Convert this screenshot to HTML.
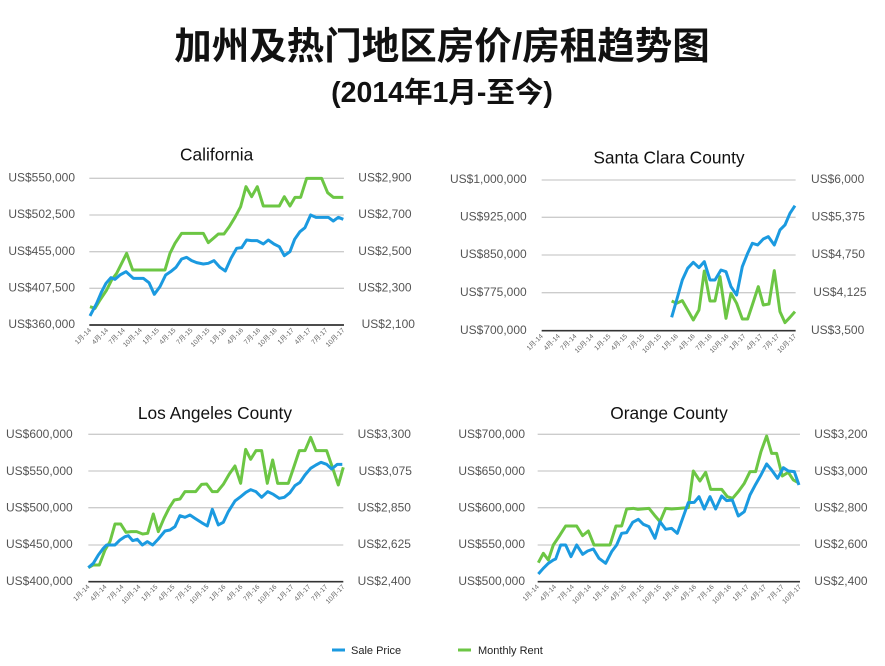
<!DOCTYPE html>
<html><head><meta charset="utf-8"><style>
html,body{margin:0;padding:0;background:#fff;}
svg{display:block;}
.t{font-family:"Liberation Sans","Noto Sans CJK SC",sans-serif;}
.ax{font-family:"Liberation Sans",sans-serif;font-size:36px;fill:#555;dominant-baseline:middle;}
.tk{font-family:"Liberation Sans","Noto Sans CJK SC",sans-serif;font-size:20px;fill:#666;text-anchor:end;}
.ttl{font-family:"Liberation Sans",sans-serif;font-size:52px;fill:#111;text-anchor:middle;}
.g{stroke:#ccc;stroke-width:4;}
.b{stroke:#333;stroke-width:5;}
.sb{fill:none;stroke:#1b9ae0;stroke-width:9;stroke-linejoin:round;}
.sg{fill:none;stroke:#6cc644;stroke-width:9;stroke-linejoin:round;}
</style></head><body>
<svg width="885" height="666" viewBox="0 0 885 666" xmlns="http://www.w3.org/2000/svg">
<text class="t" x="442" y="59" text-anchor="middle" font-size="37.5" font-weight="bold" fill="#111">加州及热门地区房价/房租趋势图</text>
<text class="t" x="442" y="102" text-anchor="middle" font-size="28.5" font-weight="bold" fill="#111">(2014年1月-至今)</text>

<!-- California -->
<g transform="translate(0,140) scale(0.3333)">
<text class="ttl" x="650" y="62">California</text>
<line class="g" x1="268" y1="115" x2="1032" y2="115"/><line class="g" x1="268" y1="225" x2="1032" y2="225"/><line class="g" x1="268" y1="335" x2="1032" y2="335"/><line class="g" x1="268" y1="445" x2="1032" y2="445"/><line class="b" x1="268" y1="555" x2="1032" y2="555"/>
<text class="ax" x="225" y="115" text-anchor="end">US$550,000</text><text class="ax" x="225" y="225" text-anchor="end">US$502,500</text><text class="ax" x="225" y="335" text-anchor="end">US$455,000</text><text class="ax" x="225" y="445" text-anchor="end">US$407,500</text><text class="ax" x="225" y="555" text-anchor="end">US$360,000</text>
<text class="ax" x="1075" y="115">US$2,900</text><text class="ax" x="1075" y="225">US$2,700</text><text class="ax" x="1075" y="335">US$2,500</text><text class="ax" x="1075" y="445">US$2,300</text><text class="ax" x="1085" y="555">US$2,100</text>
<g class="tk">
<text transform="translate(275,572) rotate(-45)">1月-14</text><text transform="translate(326,572) rotate(-45)">4月-14</text><text transform="translate(376,572) rotate(-45)">7月-14</text><text transform="translate(427,572) rotate(-45)">10月-14</text><text transform="translate(478,572) rotate(-45)">1月-15</text><text transform="translate(528,572) rotate(-45)">4月-15</text><text transform="translate(579,572) rotate(-45)">7月-15</text><text transform="translate(630,572) rotate(-45)">10月-15</text><text transform="translate(680,572) rotate(-45)">1月-16</text><text transform="translate(731,572) rotate(-45)">4月-16</text><text transform="translate(782,572) rotate(-45)">7月-16</text><text transform="translate(832,572) rotate(-45)">10月-16</text><text transform="translate(883,572) rotate(-45)">1月-17</text><text transform="translate(934,572) rotate(-45)">4月-17</text><text transform="translate(984,572) rotate(-45)">7月-17</text><text transform="translate(1035,572) rotate(-45)">10月-17</text>
</g>
<polyline class="sg" points="270,500 285,505 300,480 320,450 335,420 350,400 365,370 380,340 398,390 420,390 495,390 510,340 525,310 545,280 610,280 625,308 640,295 655,282 672,282 688,260 705,232 722,200 738,140 755,170 772,140 790,198 838,198 853,170 870,198 885,172 902,172 920,115 965,115 983,158 1000,172 1030,172"/>
<polyline class="sb" points="270,528 290,490 305,455 318,430 333,413 345,418 360,405 378,395 400,415 430,415 447,428 463,463 480,440 497,405 512,395 528,382 545,357 560,352 575,362 590,368 610,372 625,370 642,362 660,382 676,393 693,355 710,325 725,323 740,300 755,302 772,302 790,312 805,300 822,312 838,320 853,347 870,335 884,298 900,275 915,263 932,225 948,232 965,232 985,232 1000,243 1015,232 1030,238"/>
</g>

<!-- Santa Clara -->
<g transform="translate(445,140) scale(0.3333)">
<text class="ttl" x="672" y="70">Santa Clara County</text>
<line class="g" x1="290" y1="120" x2="1052" y2="120"/><line class="g" x1="290" y1="232" x2="1052" y2="232"/><line class="g" x1="290" y1="345" x2="1052" y2="345"/><line class="g" x1="290" y1="458" x2="1052" y2="458"/><line class="b" x1="290" y1="572" x2="1052" y2="572"/>
<text class="ax" x="245" y="120" text-anchor="end">US$1,000,000</text><text class="ax" x="245" y="232" text-anchor="end">US$925,000</text><text class="ax" x="245" y="345" text-anchor="end">US$850,000</text><text class="ax" x="245" y="458" text-anchor="end">US$775,000</text><text class="ax" x="245" y="572" text-anchor="end">US$700,000</text>
<text class="ax" x="1098" y="120">US$6,000</text><text class="ax" x="1100" y="232">US$5,375</text><text class="ax" x="1100" y="345">US$4,750</text><text class="ax" x="1105" y="458">US$4,125</text><text class="ax" x="1098" y="572">US$3,500</text>
<g class="tk">
<text transform="translate(295,590) rotate(-45)">1月-14</text><text transform="translate(346,590) rotate(-45)">4月-14</text><text transform="translate(396,590) rotate(-45)">7月-14</text><text transform="translate(447,590) rotate(-45)">10月-14</text><text transform="translate(498,590) rotate(-45)">1月-15</text><text transform="translate(548,590) rotate(-45)">4月-15</text><text transform="translate(599,590) rotate(-45)">7月-15</text><text transform="translate(650,590) rotate(-45)">10月-15</text><text transform="translate(700,590) rotate(-45)">1月-16</text><text transform="translate(751,590) rotate(-45)">4月-16</text><text transform="translate(802,590) rotate(-45)">7月-16</text><text transform="translate(852,590) rotate(-45)">10月-16</text><text transform="translate(903,590) rotate(-45)">1月-17</text><text transform="translate(954,590) rotate(-45)">4月-17</text><text transform="translate(1004,590) rotate(-45)">7月-17</text><text transform="translate(1055,590) rotate(-45)">10月-17</text>
</g>
<polyline class="sg" points="680,483 695,490 712,482 728,510 745,540 762,510 778,393 795,483 810,483 825,410 843,535 858,460 875,490 892,537 908,537 922,495 940,440 955,495 972,492 988,392 1005,515 1020,548 1035,532 1050,515"/>
<polyline class="sb" points="680,532 695,480 712,420 728,385 745,367 762,383 778,365 795,420 810,420 828,390 843,395 858,440 875,465 892,380 908,340 922,310 938,315 955,297 970,290 988,315 1005,270 1020,255 1035,220 1050,197"/>
</g>

<!-- Los Angeles -->
<g transform="translate(0,395) scale(0.3333)">
<text class="ttl" x="645" y="72">Los Angeles County</text>
<line class="g" x1="265" y1="118" x2="1030" y2="118"/><line class="g" x1="265" y1="228" x2="1030" y2="228"/><line class="g" x1="265" y1="338" x2="1030" y2="338"/><line class="g" x1="265" y1="450" x2="1030" y2="450"/><line class="b" x1="265" y1="560" x2="1030" y2="560"/>
<text class="ax" x="218" y="120" text-anchor="end">US$600,000</text><text class="ax" x="218" y="230" text-anchor="end">US$550,000</text><text class="ax" x="218" y="340" text-anchor="end">US$500,000</text><text class="ax" x="218" y="450" text-anchor="end">US$450,000</text><text class="ax" x="218" y="560" text-anchor="end">US$400,000</text>
<text class="ax" x="1073" y="120">US$3,300</text><text class="ax" x="1076" y="230">US$3,075</text><text class="ax" x="1073" y="340">US$2,850</text><text class="ax" x="1073" y="450">US$2,625</text><text class="ax" x="1073" y="560">US$2,400</text>
<g class="tk">
<text transform="translate(270,577) rotate(-45)">1月-14</text><text transform="translate(321,577) rotate(-45)">4月-14</text><text transform="translate(372,577) rotate(-45)">7月-14</text><text transform="translate(423,577) rotate(-45)">10月-14</text><text transform="translate(474,577) rotate(-45)">1月-15</text><text transform="translate(525,577) rotate(-45)">4月-15</text><text transform="translate(576,577) rotate(-45)">7月-15</text><text transform="translate(627,577) rotate(-45)">10月-15</text><text transform="translate(678,577) rotate(-45)">1月-16</text><text transform="translate(729,577) rotate(-45)">4月-16</text><text transform="translate(780,577) rotate(-45)">7月-16</text><text transform="translate(831,577) rotate(-45)">10月-16</text><text transform="translate(882,577) rotate(-45)">1月-17</text><text transform="translate(933,577) rotate(-45)">4月-17</text><text transform="translate(984,577) rotate(-45)">7月-17</text><text transform="translate(1035,577) rotate(-45)">10月-17</text>
</g>
<polyline class="sg" points="265,518 280,510 298,510 315,465 330,440 345,387 362,387 378,412 393,410 410,410 428,417 443,415 460,357 475,410 492,370 508,338 523,315 540,312 555,290 572,290 587,290 605,268 620,267 637,290 652,290 670,268 688,237 705,213 722,265 737,163 752,193 768,167 785,167 802,265 818,195 833,265 865,265 883,212 898,167 915,167 932,127 948,167 980,167 1000,225 1015,270 1030,217"/>
<polyline class="sb" points="265,518 280,505 295,480 310,460 320,450 345,450 360,435 375,425 385,422 398,437 412,433 427,450 442,440 458,450 475,432 495,408 510,405 525,395 540,362 555,367 570,360 585,370 605,383 622,393 637,343 655,390 670,382 685,350 705,318 722,305 738,292 752,284 768,290 785,307 803,290 820,298 838,310 853,307 870,293 885,272 900,262 915,240 932,220 948,210 963,202 980,208 995,222 1012,208 1027,208"/>
</g>

<!-- Orange -->
<g transform="translate(445,395) scale(0.3333)">
<text class="ttl" x="672" y="72">Orange County</text>
<line class="g" x1="278" y1="118" x2="1065" y2="118"/><line class="g" x1="278" y1="228" x2="1065" y2="228"/><line class="g" x1="278" y1="338" x2="1065" y2="338"/><line class="g" x1="278" y1="450" x2="1065" y2="450"/><line class="b" x1="278" y1="560" x2="1065" y2="560"/>
<text class="ax" x="240" y="120" text-anchor="end">US$700,000</text><text class="ax" x="240" y="230" text-anchor="end">US$650,000</text><text class="ax" x="240" y="340" text-anchor="end">US$600,000</text><text class="ax" x="240" y="450" text-anchor="end">US$550,000</text><text class="ax" x="240" y="560" text-anchor="end">US$500,000</text>
<text class="ax" x="1108" y="120">US$3,200</text><text class="ax" x="1108" y="230">US$3,000</text><text class="ax" x="1108" y="340">US$2,800</text><text class="ax" x="1108" y="450">US$2,600</text><text class="ax" x="1108" y="560">US$2,400</text>
<g class="tk">
<text transform="translate(283,577) rotate(-45)">1月-14</text><text transform="translate(335,577) rotate(-45)">4月-14</text><text transform="translate(388,577) rotate(-45)">7月-14</text><text transform="translate(440,577) rotate(-45)">10月-14</text><text transform="translate(493,577) rotate(-45)">1月-15</text><text transform="translate(545,577) rotate(-45)">4月-15</text><text transform="translate(598,577) rotate(-45)">7月-15</text><text transform="translate(650,577) rotate(-45)">10月-15</text><text transform="translate(703,577) rotate(-45)">1月-16</text><text transform="translate(755,577) rotate(-45)">4月-16</text><text transform="translate(808,577) rotate(-45)">7月-16</text><text transform="translate(860,577) rotate(-45)">10月-16</text><text transform="translate(913,577) rotate(-45)">1月-17</text><text transform="translate(965,577) rotate(-45)">4月-17</text><text transform="translate(1018,577) rotate(-45)">7月-17</text><text transform="translate(1070,577) rotate(-45)">10月-17</text>
</g>
<polyline class="sg" points="280,503 295,475 310,495 325,450 345,420 362,393 395,393 413,422 430,408 447,450 495,450 513,393 530,393 545,342 565,340 578,343 612,340 628,360 645,380 662,340 680,342 730,338 745,228 765,258 782,232 797,283 830,283 847,305 863,310 880,290 898,265 915,230 932,230 948,170 965,123 980,175 995,175 1012,243 1030,232 1045,255 1058,262"/>
<polyline class="sb" points="280,537 295,520 310,505 325,495 332,492 347,450 362,450 378,485 395,450 413,478 428,468 445,462 462,490 482,505 500,470 515,450 530,415 545,413 563,382 580,373 595,388 612,395 630,430 645,380 662,403 680,400 697,415 713,370 730,323 748,322 762,305 778,342 795,305 812,342 830,303 845,317 862,315 880,363 898,350 915,300 932,268 948,240 965,207 980,225 998,250 1015,218 1030,228 1048,230 1062,270"/>
</g>

<!-- Legend -->
<line x1="332" y1="650" x2="345" y2="650" stroke="#1b9ae0" stroke-width="3"/>
<text class="t" x="351" y="654" font-size="11" fill="#222">Sale Price</text>
<line x1="458" y1="650" x2="471" y2="650" stroke="#6cc644" stroke-width="3"/>
<text class="t" x="478" y="654" font-size="11" fill="#222">Monthly Rent</text>
</svg>
</body></html>
